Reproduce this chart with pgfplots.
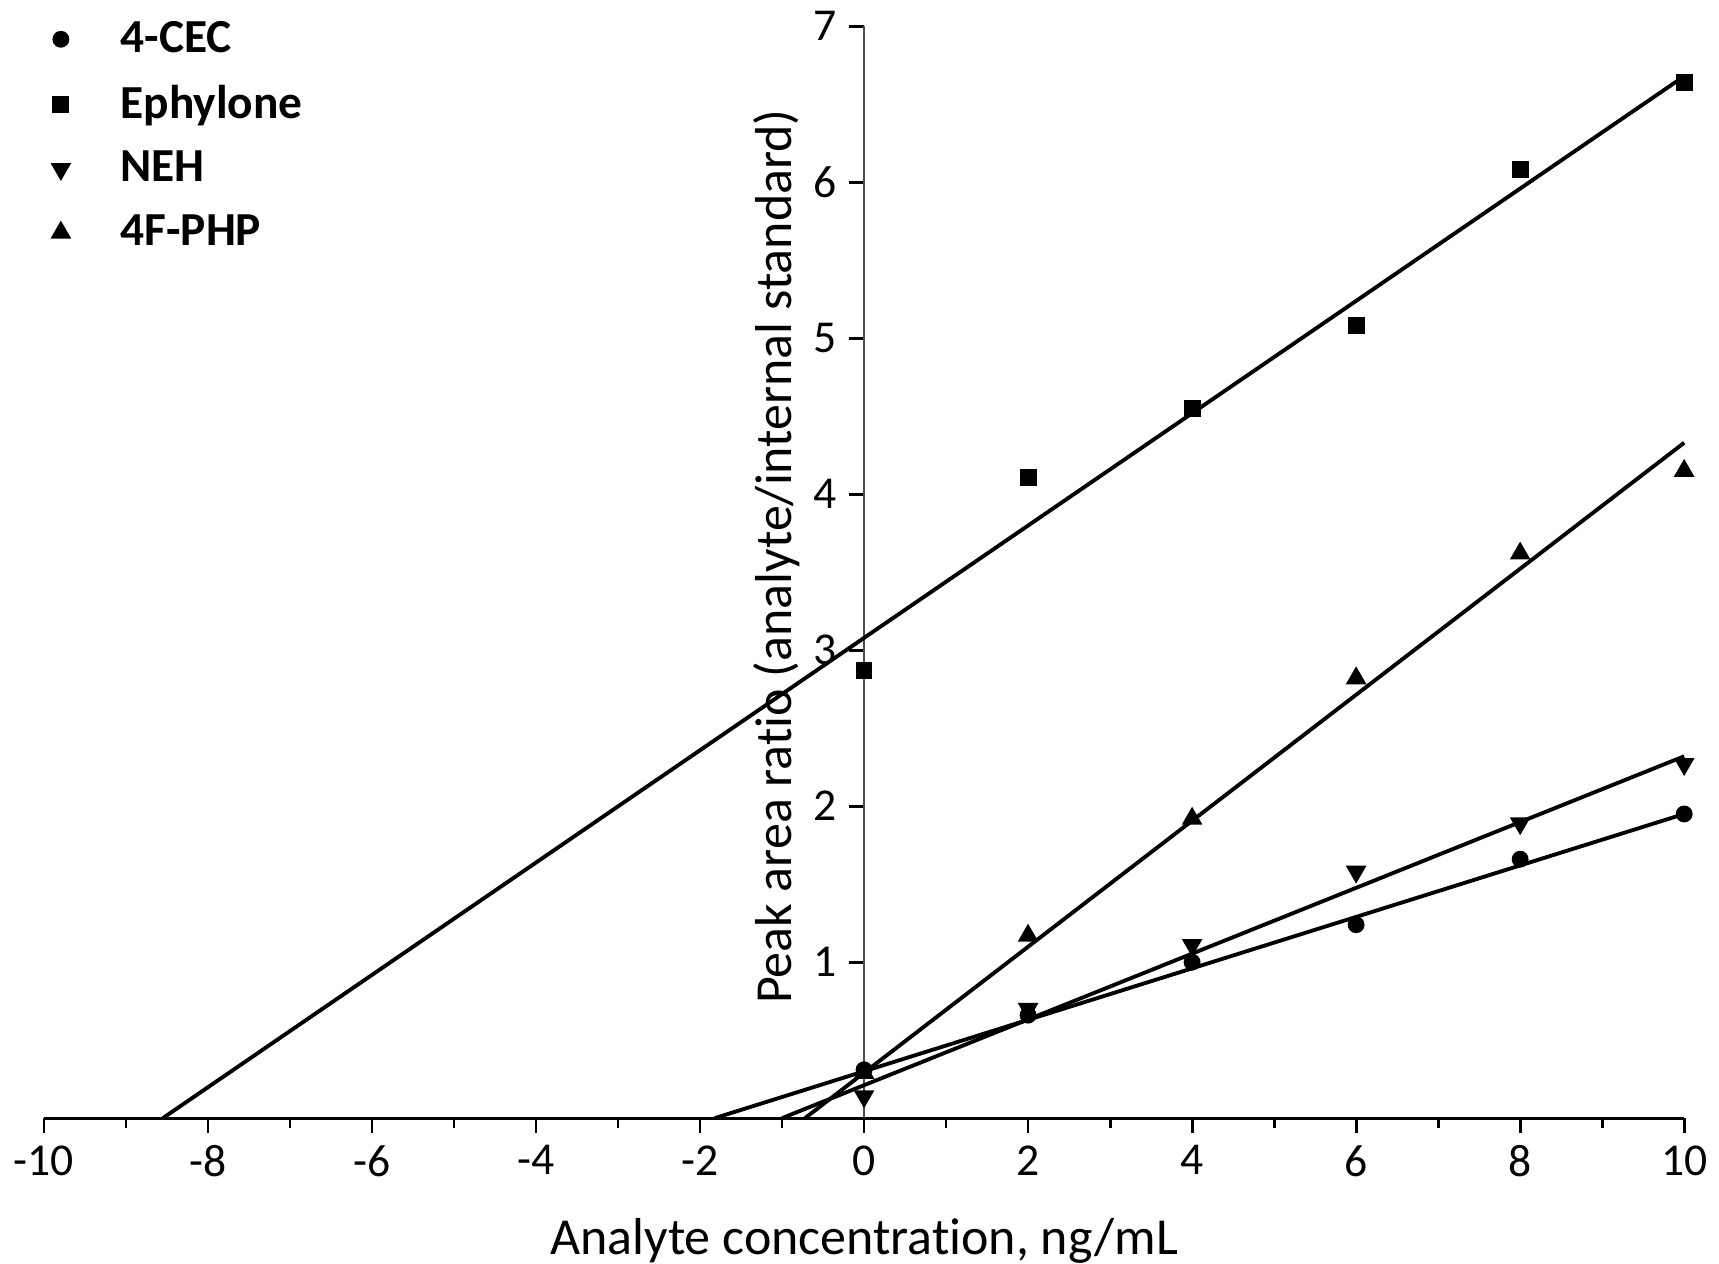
\documentclass[border=0pt]{standalone}
\usepackage{fontspec}
\setmainfont{Carlito}[Ligatures=NoCommon]
\usepackage{pgfplots}
\pgfplotsset{compat=1.18}
\usetikzlibrary{calc}

\begin{document}
\begin{tikzpicture}
\begin{axis}[
  width=16.42cm, height=10.93cm, scale only axis,
  axis lines=middle,
  axis line style={-, line width=0.8pt},
  y axis line style={black!70},
  xmin=-10, xmax=10, ymin=0, ymax=7,
  xtick={-10,-8,...,10},
  xticklabels={-10,-8,-6,-4,-2,0,2,4,6,8,10},
  minor x tick num=1,
  ytick={1,2,...,7},
  yticklabels={1,2,3,4,5,6,7},
  hide obscured x ticks=false,
  hide obscured y ticks=false,
  tick align=outside,
  major tick length=0.15cm, minor tick length=0.1cm,
  tick style={line width=0.8pt, black},
  tick label style={font=\fontsize{13}{15}\selectfont},
  every axis x label/.style={at={(axis cs:0,0)}, anchor=north, yshift=-1.0cm, inner sep=0pt},
  every axis y label/.style={at={(axis cs:-1.06,3.6)}, rotate=90, anchor=center},
  label style={font=\fontsize{14.8}{18}\selectfont},
  xlabel={Analyte concentration, ng/mL},
  ylabel={Peak area ratio (analyte/internal standard)},
  clip=false,
  legend style={at={(axis cs:-10,7)}, anchor=north west, xshift=-0.15cm, yshift=0.2cm,
    draw=none, fill=none, font=\bfseries\fontsize{13.5}{16}\selectfont,
    row sep=0.135cm},
  legend image code/.code={
    \path (0cm,0cm) (0.72cm,0cm);
    \draw[#1] plot coordinates {(0.2cm,0cm)};
  },
  legend cell align=left,
]
\addplot[only marks, mark=*, mark size=2.2pt, black] coordinates {
  (0,0.31) (2,0.66) (4,1.00) (6,1.24) (8,1.66) (10,1.95)
};
\addlegendentry{4-CEC}
\addplot[only marks, mark=square*, mark size=2.2pt, black] coordinates {
  (0,2.87) (2,4.11) (4,4.55) (6,5.08) (8,6.08) (10,6.64)
};
\addlegendentry{Ephylone}
\addplot[only marks, mark=triangle*, mark options={rotate=180}, mark size=3pt, black] coordinates {
  (0,0.14) (2,0.70) (4,1.11) (6,1.58) (8,1.89) (10,2.27)
};
\addlegendentry{NEH}
\addplot[only marks, mark=triangle*, mark size=3pt, black] coordinates {
  (0,0.29) (2,1.17) (4,1.92) (6,2.82) (8,3.62) (10,4.15)
};
\addlegendentry{4F-PHP}

% regression lines
\addplot[black, line width=1.1pt, forget plot] coordinates {(-1.82,0) (10,1.95)};
\addplot[black, line width=1.1pt, forget plot] coordinates {(-8.55,0) (10,6.68)};
\addplot[black, line width=1.1pt, forget plot] coordinates {(-1.0,0) (10,2.32)};
\addplot[black, line width=1.1pt, forget plot] coordinates {(-0.72,0) (10,4.33)};

\coordinate (bl) at (axis cs:-10,0);
\coordinate (tr) at (axis cs:10,7);
\end{axis}
\path ($(bl)+(-0.44,-1.46)$) rectangle ($(tr)+(0.33,0.26)$);
\end{tikzpicture}
\end{document}
